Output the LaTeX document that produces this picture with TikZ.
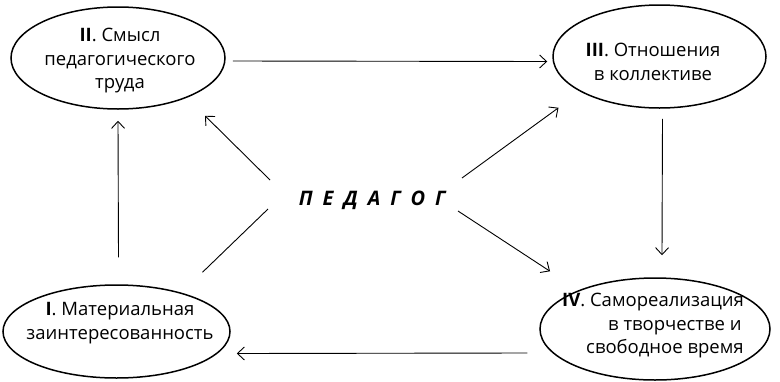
\documentclass[tikz,border=0pt]{standalone}
\usepackage{fontspec}
\setmainfont{Open Sans}
\usetikzlibrary{shapes.geometric,arrows.meta,calc}
\begin{document}
\begin{tikzpicture}[x=1pt,y=-1pt,
  oval/.style={draw, ellipse, line width=1.5pt, inner sep=0pt},
  txt/.style={inner sep=0pt, align=center, font=\fontsize{18.5}{23.5}\selectfont},
  arr/.style={line width=0.9pt, -{Straight Barb[length=7pt,width=13pt,line width=0.9pt]}},
  ln/.style={line width=0.9pt}]
\useasboundingbox (0,0) rectangle (780,381);
% ellipses
\node[oval, minimum width=214, minimum height=102] (II) at (118,58) {};
\node[oval, minimum width=213, minimum height=103] (III) at (659.5,56.5) {};
\node[oval, minimum width=227, minimum height=93] (I) at (116.5,331.5) {};
\node[oval, minimum width=230, minimum height=102] (IV) at (655,329) {};
% texts
\node[txt] (tII) at (120,61) {\textbf{II}. Смысл\\педагогического\\труда};
\node[txt] (tIII) at (653,62) {\textbf{III}. Отношения\\в коллективе};
\node[txt] (tI) at (120,323) {\textbf{I}. Материальная\\заинтересованность};
\node[txt, align=left, anchor=west] (tIV) at (562,326)
  {\textbf{IV}. Самореализация\\\hspace*{46pt}в творчестве и\\\hspace*{24pt}свободное время};
\node[font=\fontsize{20}{24}\selectfont\bfseries\itshape] (ped) at (372,200)
  {П\hspace{10pt}Е\hspace{10pt}Д\hspace{10pt}А\hspace{10pt}Г\hspace{10pt}О\hspace{10pt}Г};
% cycle arrows
\draw[arr] ($(II.east)+(7,3)$) -- ($(III.west)+(-5,5)$);
\draw[arr] ($(III.south)+(3,10)$) -- ($(IV.north)+(7,-22)$);
\draw[arr] ($(IV.west)+(-12,24)$) -- ($(I.east)+(6,22)$);
\draw[arr] ($(I.north)+(2,-27)$) -- ($(II.south)+(0,11)$);
% from the centre
\draw[arr] ($(ped)+(-102,-20)$) -- ($(II.south)+(87,6)$);
\draw[arr] ($(ped)+(90,-22)$) -- ($(III.south)+(-101,-1)$);
\draw[arr] ($(ped)+(86,11)$) -- ($(IV.north)+(-105,-6)$);
\draw[ln] ($(ped)+(-104,9)$) -- ($(I.north)+(86,-12)$);
\end{tikzpicture}
\end{document}
